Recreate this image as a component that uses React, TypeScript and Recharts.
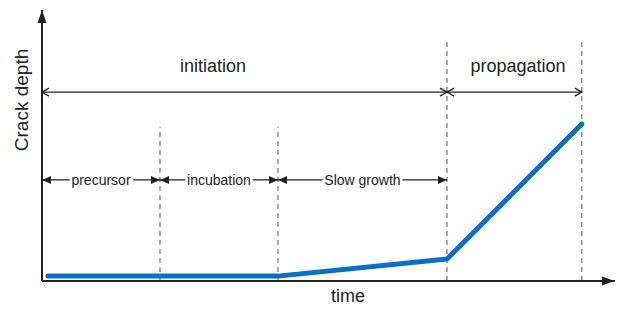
import React from "react";
import {
  LineChart,
  Line,
  XAxis,
  YAxis,
  ReferenceLine,
  ReferenceDot,
} from "recharts";

// crack depth curve (time / depth in % of axis range)
const times = [1.05, 41.4, 71.05, 94.7];
const depths = [1.8, 1.8, 8.1, 57.9];

// phase boundaries along the time axis
const boundaries = [0, 20.7, 41.4, 71.05, 94.7];
const dashTops = [56.8, 56.8, 89.7, 89.7];

const stageLabels = ["precursor", "incubation", "Slow growth"];
const phaseLabels = ["initiation", "propagation"];
const phaseLabelX = [30, 83.5];

const data = times.map((t, i) => ({ time: t, depth: depths[i] }));

const FONT = '"Liberation Sans", Arial, sans-serif';
const INK = "#222";

function arrow(kind: "open" | "filled", start: boolean, end: boolean, width = 1.3, L = 9, W = 4) {
  return (p: any) => {
    const { x1, y1, x2, y2 } = p;
    const dx = x2 - x1;
    const dy = y2 - y1;
    const len = Math.hypot(dx, dy) || 1;
    const ux = dx / len;
    const uy = dy / len;
    const head = (tx: number, ty: number, dirx: number, diry: number, key: string) => {
      const bx = tx - dirx * L;
      const by = ty - diry * L;
      const ax = bx - diry * W;
      const ay = by + dirx * W;
      const cx = bx + diry * W;
      const cy = by - dirx * W;
      if (kind === "open") {
        return (
          <path
            key={key}
            d={`M${ax},${ay} L${tx},${ty} L${cx},${cy}`}
            fill="none"
            stroke={INK}
            strokeWidth={1.3}
          />
        );
      }
      return <path key={key} d={`M${ax},${ay} L${tx},${ty} L${cx},${cy} Z`} fill={INK} />;
    };
    return (
      <g>
        <line x1={x1} y1={y1} x2={x2} y2={y2} stroke={INK} strokeWidth={width} />
        {start && head(x1, y1, -ux, -uy, "s")}
        {end && head(x2, y2, ux, uy, "e")}
      </g>
    );
  };
}

function textAt(text: string, size: number, opts: { halo?: boolean; angle?: number } = {}) {
  return (p: any) => {
    const { cx, cy } = p;
    return (
      <text
        x={cx}
        y={cy}
        textAnchor="middle"
        dominantBaseline="central"
        fontFamily={FONT}
        fontSize={size}
        fill={INK}
        stroke={opts.halo ? "#fff" : "none"}
        strokeWidth={opts.halo ? 5 : 0}
        paintOrder="stroke"
        transform={opts.angle ? `rotate(${opts.angle} ${cx} ${cy})` : undefined}
      >
        {text}
      </text>
    );
  };
}

export default function App() {
  return (
    <div style={{ position: "absolute", left: 0, top: 0, background: "#fff" }}>
      <LineChart
        width={618}
        height={309}
        data={data}
        margin={{ top: 10, right: 6, bottom: 28, left: 42 }}
      >
        <XAxis dataKey="time" type="number" domain={[0, 100]} hide />
        <YAxis type="number" domain={[0, 100]} hide />

        {boundaries.slice(1).map((b, i) => (
          <ReferenceLine
            key={"d" + i}
            segment={[
              { x: b, y: 0 },
              { x: b, y: dashTops[i] },
            ]}
            stroke="#555"
            strokeWidth={1}
            strokeDasharray="5 4"
            ifOverflow="visible"
          />
        ))}

        {/* axes with arrow tips */}
        <ReferenceLine
          segment={[
            { x: 0, y: 0 },
            { x: 100.5, y: 0 },
          ]}
          ifOverflow="visible"
          shape={arrow("filled", false, true, 2, 13, 4.5)}
        />
        <ReferenceLine
          segment={[
            { x: 0, y: 0 },
            { x: 0, y: 100 },
          ]}
          ifOverflow="visible"
          shape={arrow("filled", false, true, 2, 13, 4.5)}
        />

        {/* initiation / propagation */}
        <ReferenceLine
          segment={[
            { x: boundaries[0], y: 69.7 },
            { x: boundaries[3], y: 69.7 },
          ]}
          ifOverflow="visible"
          shape={arrow("open", true, true, 1.3, 7, 4)}
        />
        <ReferenceLine
          segment={[
            { x: boundaries[3], y: 69.7 },
            { x: boundaries[4], y: 69.7 },
          ]}
          ifOverflow="visible"
          shape={arrow("open", true, true, 1.3, 7, 4)}
        />

        {/* precursor / incubation / slow growth */}
        {stageLabels.map((s, i) => (
          <ReferenceLine
            key={"a" + i}
            segment={[
              { x: boundaries[i], y: 37.3 },
              { x: boundaries[i + 1], y: 37.3 },
            ]}
            ifOverflow="visible"
            shape={arrow("filled", true, true)}
          />
        ))}
        {stageLabels.map((s, i) => (
          <ReferenceDot
            key={"s" + i}
            x={(boundaries[i] + boundaries[i + 1]) / 2}
            y={37.3}
            r={0}
            ifOverflow="visible"
            shape={textAt(s, 14, { halo: true })}
          />
        ))}
        {phaseLabels.map((s, i) => (
          <ReferenceDot
            key={"p" + i}
            x={phaseLabelX[i]}
            y={79.3}
            r={0}
            ifOverflow="visible"
            shape={textAt(s, 18)}
          />
        ))}

        <ReferenceDot x={53.7} y={-5.5} r={0} ifOverflow="visible" shape={textAt("time", 18)} />
        <ReferenceDot
          x={-3.6}
          y={66.8}
          r={0}
          ifOverflow="visible"
          shape={textAt("Crack depth", 19, { angle: -90 })}
        />

        <Line
          type="linear"
          dataKey="depth"
          stroke="#0b6fc4"
          strokeWidth={5}
          strokeLinecap="round"
          strokeLinejoin="round"
          dot={false}
          isAnimationActive={false}
        />
      </LineChart>
    </div>
  );
}
